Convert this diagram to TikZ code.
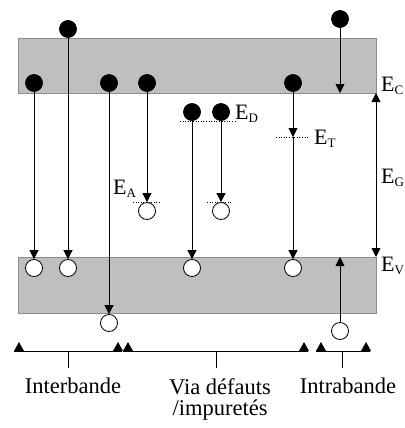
\documentclass[tikz,border=0pt]{standalone}
\usepackage{fontspec}
\setmainfont{Liberation Serif}
\usetikzlibrary{arrows.meta}
\newcommand{\subsz}[1]{\textsubscript{\fontsize{13}{14}\selectfont #1}}
\begin{document}
\begin{tikzpicture}[x=1pt,y=-1pt,
  band/.style={fill=black!25,draw=black!45,line width=0.8pt},
  elec/.style={circle,fill=black,draw=black,minimum size=17pt,inner sep=0pt},
  hole/.style={circle,fill=white,draw=black,line width=0.8pt,minimum size=17pt,inner sep=0pt},
  tr/.style={line width=0.8pt,-{Triangle[length=9pt,width=9pt]}},
  ln/.style={line width=0.8pt},
  lvl/.style={dotted,line width=0.6pt},
  lab/.style={font=\fontsize{22}{24}\selectfont,inner sep=0pt},
  blab/.style={font=\fontsize{22.5}{24}\selectfont,inner sep=0pt}]
\useasboundingbox (0,0) rectangle (404,428);
% bands
\draw[band] (18,38) rectangle (376,93);
\draw[band] (18,257) rectangle (376,313);
% energy levels
\draw[lvl] (180,121) -- (235,121);
\draw[lvl] (276,137) -- (309,137);
\draw[lvl] (133,202) -- (160,202);
\draw[lvl] (207,202) -- (233,202);
% electrons
\node[elec] (e1) at (34,83) {};
\node[elec] (e2) at (68,29) {};
\node[elec] (e3) at (109,83) {};
\node[elec] (e4) at (147,83) {};
\node[elec] (e5) at (192,112) {};
\node[elec] (e6) at (221,112) {};
\node[elec] (e7) at (293,83) {};
\node[elec] (e8) at (340,19) {};
% holes
\node[hole] (h1) at (34,268) {};
\node[hole] (h2) at (68,268) {};
\node[hole] (h3) at (109,323) {};
\node[hole] (h4) at (147,211) {};
\node[hole] (h5) at (192,268) {};
\node[hole] (h6) at (221,211) {};
\node[hole] (h7) at (293,268) {};
\node[hole] (h8) at (340,331) {};
% coordinates
\coordinate (t7) at (293,137);
\coordinate (c8) at (340,93);
\coordinate (g1) at (376,93);
\coordinate (g2) at (376,257);
\coordinate (v8) at (340,257);
% transitions
\draw[tr] (e1.center) -- (h1.north);
\draw[tr] (e2.center) -- (h2.north);
\draw[tr] (e3.center) -- (h3.north);
\draw[tr] (e4.center) -- (h4.north);
\draw[tr] (e5.center) -- (h5.north);
\draw[tr] (e6.center) -- (h6.north);
\draw[tr] (e7.center) -- (t7);
\draw[tr] (t7) -- (h7.north);
\draw[tr] (e8.center) -- (c8);
\draw[tr] (h8.north) -- (v8);
\draw[line width=0.8pt,{Triangle[length=9pt,width=9pt]}-{Triangle[length=9pt,width=9pt]}] (g1) -- (g2);
% redraw electrons on top
\foreach \n in {e1,e2,e3,e4,e5,e6,e7,e8} \node[elec] at (\n) {};
% labels
\node[lab,anchor=west] (lEC) at (381,86) {E\subsz{C}};
\node[lab,anchor=west] (lEV) at (381,266) {E\subsz{V}};
\node[lab,anchor=west] (lEG) at (381,178) {E\subsz{G}};
\node[lab,anchor=west] (lED) at (235,114) {E\subsz{D}};
\node[lab,anchor=west] (lET) at (314,139) {E\subsz{T}};
\node[lab,anchor=west] (lEA) at (113,189) {E\subsz{A}};
% brackets
\coordinate (b1l) at (14,351); \coordinate (b1r) at (122,351); \coordinate (b1m) at (68,351);
\coordinate (b2l) at (123,351); \coordinate (b2r) at (308,351); \coordinate (b2m) at (216,351);
\coordinate (b3l) at (316,351); \coordinate (b3r) at (370,351); \coordinate (b3m) at (342,351);
\draw[ln] (b1l) -- (b1r); \draw[ln] (b1m) -- ++(0,17);
\draw[ln] (b2l) -- (b2r); \draw[ln] (b2m) -- ++(0,17);
\draw[ln] (b3l) -- (b3r); \draw[ln] (b3m) -- ++(0,17);
\foreach \x in {14,113,123,299,316,361}
  \fill (\x,351) -- ++(10,0) -- ++(-5,-9) -- cycle;
\node[blab] (t1) at (73,386) {Interbande};
\node[blab] (t2) at (220,387) {Via défauts};
\node[blab] (t3) at (220,410) {/impuretés};
\node[blab] (t4) at (348,386) {Intrabande};
\end{tikzpicture}
\end{document}
